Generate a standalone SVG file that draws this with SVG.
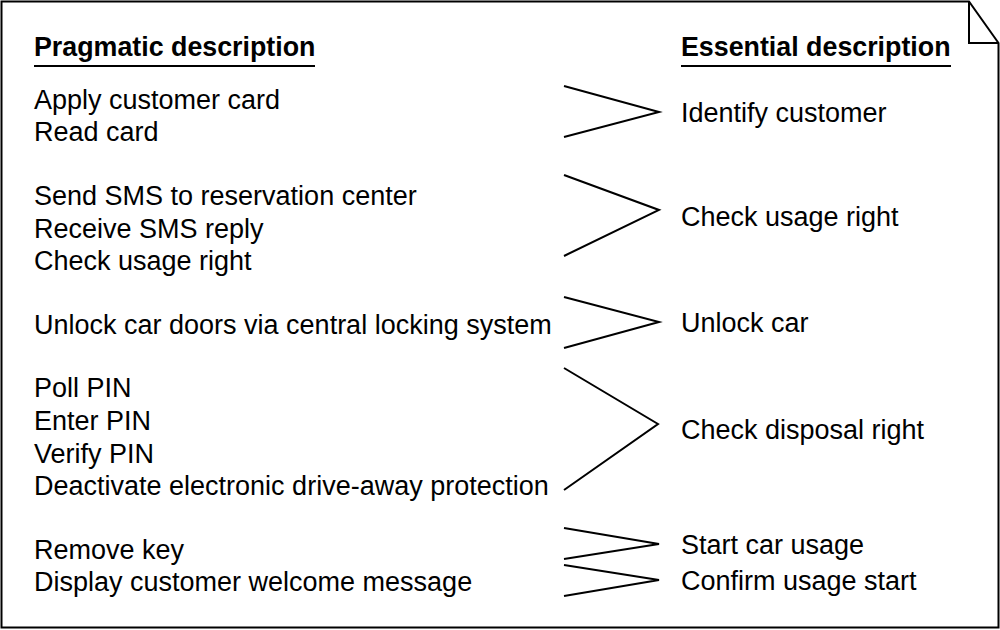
<svg xmlns="http://www.w3.org/2000/svg" width="1000" height="630" viewBox="0 0 1000 630">
<style>
.t{font-family:"Liberation Sans",Arial,sans-serif;font-size:27px;fill:#000}
.h{font-family:"Liberation Sans",Arial,sans-serif;font-size:26.8px;font-weight:bold;fill:#000}
.ln{fill:none;stroke:#000;stroke-width:2}
</style>
<rect width="1000" height="630" fill="#fff"/>
<g id="frame">
<path class="ln" d="M1.5,1.5 H969 L998.5,43 V627.5 H1.5 Z"/>
<path class="ln" d="M969,1.5 V43 H998.5"/>
</g>
<g id="pragmatic-header">
<text class="h" x="34" y="56">Pragmatic description</text>
<line class="ln" x1="34" y1="66" x2="315" y2="66"/>
</g>
<g id="essential-header">
<text class="h" x="681" y="56">Essential description</text>
<line class="ln" x1="681" y1="66" x2="951" y2="66"/>
</g>
<g id="p1"><text class="t" x="34" y="109">Apply customer card</text><text class="t" x="34" y="141">Read card</text></g>
<g id="p2"><text class="t" x="34" y="205">Send SMS to reservation center</text><text class="t" x="34" y="238">Receive SMS reply</text><text class="t" x="34" y="270">Check usage right</text></g>
<g id="p3"><text class="t" x="34" y="334">Unlock car doors via central locking system</text></g>
<g id="p4"><text class="t" x="34" y="397">Poll PIN</text><text class="t" x="34" y="430">Enter PIN</text><text class="t" x="34" y="463">Verify PIN</text><text class="t" x="34" y="495">Deactivate electronic drive-away protection</text></g>
<g id="p5"><text class="t" x="34" y="559">Remove key</text><text class="t" x="34" y="591">Display customer welcome message</text></g>
<g id="e1"><text class="t" x="681" y="122">Identify customer</text></g>
<g id="e2"><text class="t" x="681" y="226">Check usage right</text></g>
<g id="e3"><text class="t" x="681" y="332">Unlock car</text></g>
<g id="e4"><text class="t" x="681" y="439">Check disposal right</text></g>
<g id="e5"><text class="t" x="681" y="554">Start car usage</text></g>
<g id="e6"><text class="t" x="681" y="590">Confirm usage start</text></g>
<g id="connectors">
<polyline class="ln" points="564,86 659,112 564,137"/>
<polyline class="ln" points="564,175 659,210 564,256"/>
<polyline class="ln" points="564,297 659,322 564,348"/>
<polyline class="ln" points="564,368 658,424 564,490"/>
<polyline class="ln" points="564,528 659,544 564,559"/>
<polyline class="ln" points="564,565 659,580 564,596"/>
</g>
</svg>
